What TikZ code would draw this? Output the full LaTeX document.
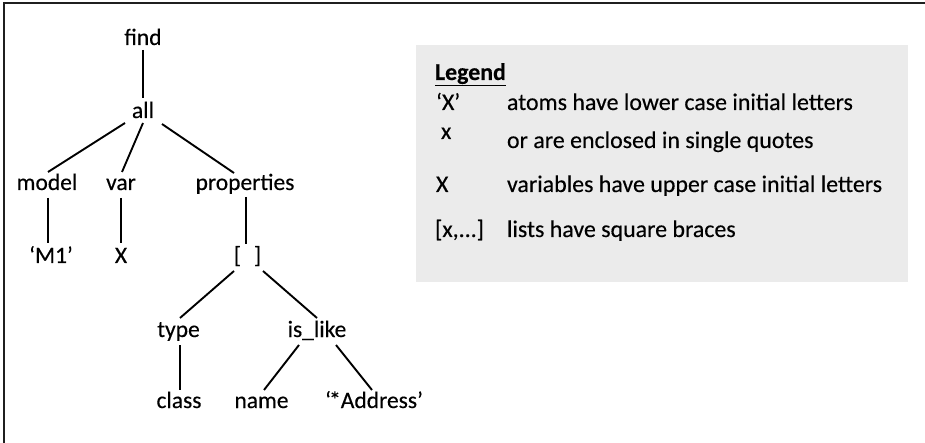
\documentclass[tikz,border=0pt]{standalone}
\usepackage{fontspec}
\setmainfont{Carlito}[RawFeature={embolden=0.3}]
\begin{document}
\begin{tikzpicture}[x=1pt,y=-1pt,
  term/.style={anchor=base,inner sep=0pt,outer sep=0pt,font=\fontsize{23.5}{28}\selectfont},
  legtext/.style={anchor=base west,inner sep=0pt,outer sep=0pt,font=\fontsize{23.9}{28}\selectfont},
  edge/.style={line width=1.9pt,black},
  frameline/.style={line width=2.4pt,draw=black!88}]
\useasboundingbox (0,0) rectangle (925,443);
% frame (top and left edges)
\draw[frameline] (4,3.3) -- (925,3.3);
\draw[frameline] (4,2.1) -- (4,443);
% legend panel
\fill[black!8] (416,45) rectangle (908,282);
\node[legtext] (leg) at (435,80) {\underline{\textbf{Legend}}};
\node[legtext] (kq) at (436,110) {‘X’};
\node[legtext] (kx) at (441,139) {x};
\node[legtext] (ka) at (507,110) {atoms have lower case initial letters};
\node[legtext] (kb) at (507,148) {or are enclosed in single quotes};
\node[legtext] (kv) at (436,192) {X};
\node[legtext] (kvt) at (507,192) {variables have upper case initial letters};
\node[legtext] (kl) at (435,237) {[x,...]};
\node[legtext] (klt) at (507,237) {lists have square braces};
% term tree
\node[term] (find) at (143,45) {find};
\node[term] (all) at (143,118) {all};
\node[term] (model) at (47,190) {model};
\node[term] (var) at (121,190) {var};
\node[term] (props) at (245,190) {properties};
\node[term] (m1) at (51,263) {‘M1’};
\node[term] (xv) at (121,263) {X};
\node[term] (lst) at (247.5,263) {[\hspace{0.55em}]};
\node[term] (type) at (178.5,337) {type};
\node[term] (islike) at (317,337) {is\_like};
\node[term] (class) at (179,408) {class};
\node[term] (name) at (261.5,408) {name};
\node[term] (addr) at (374,408) {‘\kern-0.08em*Address’};
% connectors
\draw[edge] ([shift={(0,5)}]find.base) -- ([shift={(0,-20)}]all.base);
\draw[edge] ([shift={(-18,5)}]all.base) -- ([shift={(1,-18)}]model.base);
\draw[edge] ([shift={(0,5)}]all.base) -- ([shift={(1,-18)}]var.base);
\draw[edge] ([shift={(19,6)}]all.base) -- ([shift={(-11,-17)}]props.base);
\draw[edge] ([shift={(1,8)}]model.base) -- ([shift={(-3,-20)}]m1.base);
\draw[edge] ([shift={(0,8)}]var.base) -- ([shift={(0,-20)}]xv.base);
\draw[edge] ([shift={(1,7)}]props.base) -- ([shift={(-1.5,-19)}]lst.base);
\draw[edge] ([shift={(-13.5,8)}]lst.base) -- ([shift={(1.5,-19)}]type.base);
\draw[edge] ([shift={(15.5,8)}]lst.base) -- ([shift={(0,-19)}]islike.base);
\draw[edge] ([shift={(1.5,8)}]type.base) -- ([shift={(1,-18)}]class.base);
\draw[edge] ([shift={(-18,8)}]islike.base) -- ([shift={(2.5,-18)}]name.base);
\draw[edge] ([shift={(19,8)}]islike.base) -- ([shift={(-2,-18)}]addr.base);
\end{tikzpicture}
\end{document}
